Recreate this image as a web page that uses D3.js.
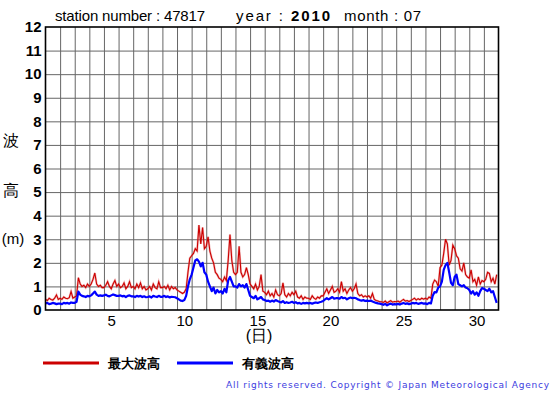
<!DOCTYPE html>
<html>
<head>
<meta charset="utf-8">
<script src="https://cdn.jsdelivr.net/npm/d3@7"></script>
<style>
  body { margin: 0; background: #fff; }
  svg text { font-family: "Liberation Sans", Arial, sans-serif; }
</style>
</head>
<body>
<div id="chart"></div>
<script>
// wave heights, 3-hourly (8 values per day), July 2010, station 47817
var maxWave = [
  0.45,0.4,0.5,0.45,0.42,0.5,0.64,0.45,
  0.5,0.45,0.55,0.5,0.48,0.52,0.78,0.5,
  0.55,0.6,1.37,1.1,1.0,1.05,0.95,1.1,
  1.0,1.1,1.3,1.57,1.1,1.0,1.05,0.95,
  0.95,1.05,1.2,1.0,0.9,1.1,1.25,1.0,
  1.1,0.95,1.0,1.15,0.9,1.0,1.2,0.95,
  1.0,0.9,1.1,0.95,1.15,0.9,1.0,0.85,
  0.9,1.0,0.85,1.1,0.95,0.9,1.2,0.95,
  0.95,1.0,0.9,1.05,0.85,1.0,0.9,0.95,
  0.85,0.8,0.75,0.7,0.75,0.9,1.6,2.2,
  2.3,2.4,2.6,2.5,3.6,2.8,3.5,2.6,
  2.7,3.1,2.5,2.2,2.0,1.6,1.5,1.35,
  1.3,1.2,1.4,1.25,2.1,3.2,2.1,1.6,
  1.5,1.6,2.7,1.6,1.4,1.5,1.8,1.5,
  1.1,1.0,0.9,1.1,0.85,1.0,1.5,0.8,
  0.75,0.65,0.8,0.6,0.7,0.55,0.85,0.65,
  0.6,0.7,1.15,0.65,0.55,0.7,0.6,0.75,
  0.65,0.8,0.55,0.5,0.6,0.45,0.55,0.5,
  0.5,0.45,0.6,0.5,0.45,0.55,0.5,0.6,
  0.6,0.75,0.9,0.7,0.85,1.0,0.75,0.8,
  0.9,0.75,1.2,0.8,0.9,0.7,0.85,0.95,
  0.8,0.9,1.1,0.7,0.6,0.65,0.55,0.6,
  0.55,0.6,0.5,0.7,0.45,0.4,0.38,0.35,
  0.35,0.32,0.38,0.3,0.35,0.4,0.33,0.36,
  0.35,0.38,0.33,0.4,0.45,0.38,0.4,0.36,
  0.4,0.45,0.5,0.42,0.48,0.44,0.5,0.46,
  0.5,0.45,0.55,0.5,1.1,1.27,1.2,1.0,
  1.8,1.9,2.4,3.0,2.8,1.9,2.1,2.75,
  2.6,2.3,2.2,1.75,1.65,2.0,1.5,1.4,
  1.35,1.7,1.2,1.3,1.05,1.4,1.1,1.25,
  1.2,1.3,1.6,1.55,1.2,1.35,1.1,1.5
];
var sigWave = [
  0.28,0.3,0.25,0.27,0.3,0.28,0.25,0.27,
  0.27,0.25,0.3,0.28,0.3,0.27,0.32,0.3,
  0.3,0.35,0.78,0.65,0.6,0.58,0.55,0.6,
  0.58,0.62,0.7,0.78,0.65,0.6,0.62,0.6,
  0.62,0.65,0.6,0.58,0.62,0.66,0.63,0.6,
  0.6,0.62,0.58,0.6,0.55,0.6,0.62,0.58,
  0.58,0.55,0.6,0.57,0.6,0.55,0.58,0.54,
  0.55,0.58,0.53,0.6,0.57,0.55,0.6,0.56,
  0.56,0.6,0.55,0.58,0.53,0.56,0.55,0.54,
  0.5,0.45,0.4,0.38,0.42,0.6,1.0,1.3,
  1.5,1.8,2.1,2.15,2.05,1.85,2.0,1.6,
  1.5,1.2,1.0,0.8,0.95,0.7,0.85,0.75,
  0.8,0.7,0.9,0.75,1.25,1.4,1.2,1.0,
  1.0,0.95,1.1,1.0,1.05,0.95,1.1,0.85,
  0.6,0.55,0.5,0.6,0.45,0.5,0.55,0.45,
  0.42,0.38,0.4,0.35,0.4,0.36,0.42,0.38,
  0.35,0.32,0.38,0.3,0.33,0.3,0.32,0.35,
  0.3,0.33,0.28,0.3,0.26,0.3,0.28,0.3,
  0.28,0.3,0.27,0.3,0.32,0.3,0.33,0.35,
  0.38,0.45,0.5,0.45,0.5,0.55,0.48,0.5,
  0.5,0.48,0.55,0.5,0.52,0.45,0.5,0.53,
  0.5,0.52,0.5,0.45,0.42,0.4,0.42,0.38,
  0.4,0.38,0.4,0.36,0.33,0.3,0.28,0.27,
  0.25,0.22,0.26,0.2,0.24,0.27,0.23,0.25,
  0.24,0.26,0.23,0.27,0.3,0.26,0.28,0.25,
  0.27,0.3,0.28,0.3,0.26,0.28,0.3,0.27,
  0.28,0.25,0.3,0.28,0.6,0.76,0.75,0.95,
  1.0,1.2,1.7,1.9,2.0,1.6,1.15,1.05,
  1.4,1.5,1.1,1.05,1.0,1.05,0.95,0.92,
  0.85,0.7,0.8,0.65,0.75,0.6,0.8,0.93,
  0.9,0.85,0.8,0.9,0.75,0.8,0.55,0.3
];
var perDay = 8;
var yTicks = [0,1,2,3,4,5,6,7,8,9,10,11,12];
var dayLabels = [5,10,15,20,25,30];
var seriesNames = ["最大波高", "有義波高"];
var seriesColors = ["#cc0000", "#0000ff"];

var W = 555, H = 395;
var margin = {top: 27, right: 56.5, bottom: 85, left: 45.5};
var width = W - margin.left - margin.right,
    height = H - margin.top - margin.bottom;

var svg = d3.select("#chart").append("svg")
    .attr("width", W).attr("height", H);

var g = svg.append("g")
    .attr("transform", "translate(" + margin.left + "," + margin.top + ")");

// x in days: 1.0 = start of day 1, 32.0 = end of day 31
var x = d3.scaleLinear().domain([1, 32]).range([0, width]);
var y = d3.scaleLinear().domain([0, 12]).range([height, 0]);

// grid
g.append("g")
    .attr("transform", "translate(0," + height + ")")
    .call(d3.axisBottom(x).tickValues(d3.range(2, 32)).tickSize(-height).tickFormat(""))
    .call(a => a.select(".domain").remove())
    .selectAll("line").attr("stroke", "#666").attr("stroke-width", 1);
g.append("g")
    .call(d3.axisLeft(y).tickValues(yTicks.slice(1, -1)).tickSize(-width).tickFormat(""))
    .call(a => a.select(".domain").remove())
    .selectAll("line").attr("stroke", "#666").attr("stroke-width", 1);

// y labels
g.append("g")
    .call(d3.axisLeft(y).tickValues(yTicks).tickSize(0).tickPadding(4))
    .call(a => a.select(".domain").remove())
    .selectAll("text")
    .style("font-family", "'Liberation Sans', Arial, sans-serif")
    .style("font-size", "15px").style("font-weight", "bold").attr("fill", "#000");

// x labels at middle of the day column
g.append("g")
    .attr("transform", "translate(0," + height + ")")
    .call(d3.axisBottom(x).tickValues(dayLabels.map(d => d + 0.5)).tickSize(0).tickPadding(5)
        .tickFormat(d => Math.floor(d)))
    .call(a => a.select(".domain").remove())
    .selectAll("text")
    .style("font-family", "'Liberation Sans', Arial, sans-serif")
    .style("font-size", "15px").attr("fill", "#000");

var t = d3.range(maxWave.length).map(i => 1 + i / perDay);
var line = d3.line().x((d, i) => x(t[i])).y(d => y(d));

g.append("path").datum(maxWave)
    .attr("fill", "none").attr("stroke", "#e06060").attr("stroke-opacity", 0.45)
    .attr("stroke-width", 2.2).attr("d", line);
g.append("path").datum(maxWave)
    .attr("fill", "none").attr("stroke", seriesColors[0])
    .attr("stroke-width", 1.1).attr("d", line);
g.append("path").datum(sigWave)
    .attr("fill", "none").attr("stroke", seriesColors[1])
    .attr("stroke-width", 2.2).attr("stroke-linejoin", "round").attr("d", line);

// frame
g.append("rect").attr("width", width).attr("height", height)
    .attr("fill", "none").attr("stroke", "#000").attr("stroke-width", 1.6);

// title
svg.append("text").attr("x", 55).attr("y", 21)
    .attr("textLength", 150).attr("lengthAdjust", "spacing")
    .style("font-size", "15px").text("station number : 47817");
var yr = svg.append("text").attr("x", 236).attr("y", 21)
    .attr("textLength", 94).attr("lengthAdjust", "spacing")
    .style("font-size", "15px");
yr.append("tspan").text("year : ");
yr.append("tspan").style("font-weight", "bold").text("2010");
svg.append("text").attr("x", 344).attr("y", 21)
    .attr("textLength", 77).attr("lengthAdjust", "spacing")
    .style("font-size", "15px").text("month : 07");

// y axis label
svg.append("text").attr("x", 11).attr("y", 146).attr("text-anchor", "middle")
    .style("font-size", "16px").text("波");
svg.append("text").attr("x", 11).attr("y", 196).attr("text-anchor", "middle")
    .style("font-size", "16px").text("高");
svg.append("text").attr("x", 13).attr("y", 244).attr("text-anchor", "middle")
    .style("font-size", "15px").text("(m)");

// x axis label
svg.append("text").attr("x", 259).attr("y", 341).attr("text-anchor", "middle")
    .style("font-size", "16px").text("(日)");

// legend
var legend = svg.append("g");
var lx = [43, 177];
seriesNames.forEach(function(name, i) {
    legend.append("line").attr("x1", lx[i]).attr("x2", lx[i] + 56)
        .attr("y1", 363).attr("y2", 363)
        .attr("stroke", seriesColors[i]).attr("stroke-width", 3);
    legend.append("text").attr("x", lx[i] + 65).attr("y", 368)
        .style("font-size", "13px").style("font-weight", "bold").text(name);
});

// copyright
svg.append("text").attr("x", 226).attr("y", 388)
    .attr("textLength", 323).attr("lengthAdjust", "spacing")
    .style("font-family", "'DejaVu Sans', Verdana, sans-serif")
    .style("font-size", "9px").attr("fill", "#3c3ce0")
    .text("All rights reserved. Copyright © Japan Meteorological Agency");
</script>
</body>
</html>
